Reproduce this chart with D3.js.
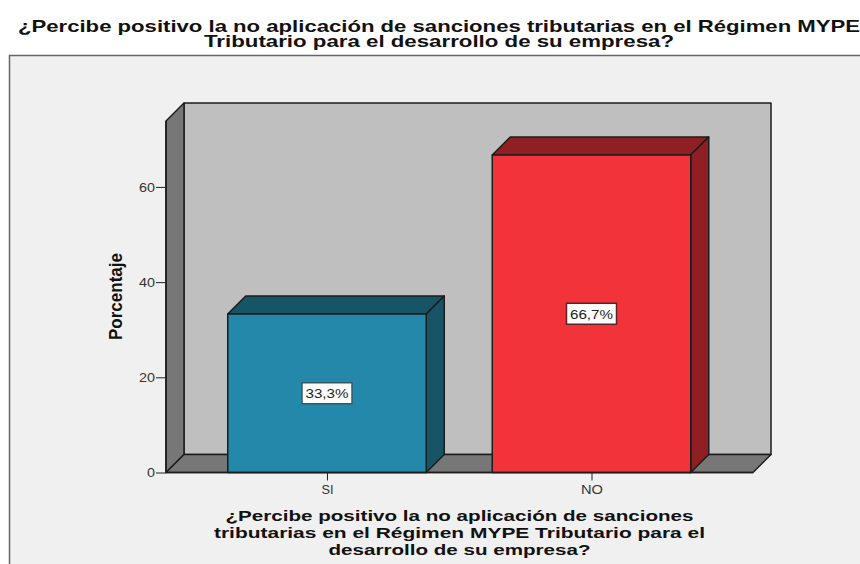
<!DOCTYPE html>
<html><head><meta charset="utf-8">
<script src="https://cdn.jsdelivr.net/npm/d3@7"></script>
<style>html,body{margin:0;padding:0;background:#fff;overflow:hidden}svg{display:block}text{font-family:"Liberation Sans",Arial,sans-serif}</style>
</head><body><svg id="c" width="860" height="564"></svg>
<script>
const categories = ["SI", "NO"];
const values = [33.3, 66.7];
const valueLabels = ["33,3%", "66,7%"];
const yTicks = [0, 20, 40, 60];
const yTitle = "Porcentaje";
const titleLines = ["¿Percibe positivo la no aplicación de sanciones tributarias en el Régimen MYPE", "Tributario para el desarrollo de su empresa?"];
const xTitleLines = ["¿Percibe positivo la no aplicación de sanciones", "tributarias en el Régimen MYPE Tributario para el", "desarrollo de su empresa?"];
const frontColors = ["#2488ab", "#f2333a"];
const sideColors = ["#175466", "#8f1f22"];
const labelStrokes = ["#2f5c6c", "#5a2325"];

const svg = d3.select("#c");
const d = 18;
const yMax = 73.85;
const y = d3.scaleLinear().domain([0, yMax]).range([472.5, 121]);
const x = d3.scalePoint().domain(categories).range([327, 591.5]);
const bw = 198.5, L = 166, R = 753;
const stroke = "#1c1c1c";
const poly = (pts, fill, sw = 1.5) => svg.append("path")
  .attr("d", d3.line()(pts) + "Z").attr("fill", fill).attr("stroke", stroke)
  .attr("stroke-width", sw).attr("stroke-linejoin", "round");

// page background and open frame (left and top edges only)
svg.append("rect").attr("x", 9).attr("y", 55).attr("width", 851).attr("height", 509).attr("fill", "#f0f0f0");
svg.append("path").attr("d", "M9.5 564V55.5H860").attr("fill", "none").attr("stroke", "#666").attr("stroke-width", 1.5);

// walls
const y0 = y(0), yT = y(yMax);
poly([[L + d, yT - d], [R + d, yT - d], [R + d, y0 - d], [L + d, y0 - d]], "#bfbfbf");
poly([[L, yT], [L + d, yT - d], [L + d, y0 - d], [L, y0]], "#777777");
poly([[L, y0], [L + d, y0 - d], [R + d, y0 - d], [R, y0]], "#777777");

// bars
categories.forEach((c, i) => {
  const x0 = x(c) - bw / 2, x1 = x(c) + bw / 2, t = y(values[i]);
  poly([[x0, t], [x0 + d, t - d], [x1 + d, t - d], [x1, t]], sideColors[i]);
  poly([[x1, t], [x1 + d, t - d], [x1 + d, y0 - d], [x1, y0]], sideColors[i]);
  poly([[x0, t], [x1, t], [x1, y0], [x0, y0]], frontColors[i]);
  const my = y(values[i] / 2);
  svg.append("rect").attr("x", x(c) - 25).attr("y", my - 10.5).attr("width", 50).attr("height", 21)
    .attr("fill", "#fff").attr("stroke", labelStrokes[i]).attr("stroke-width", 1.5);
  svg.append("text").attr("x", x(c)).attr("y", my + 5).attr("text-anchor", "middle")
    .attr("font-size", 13.5).attr("fill", "#222")
    .attr("textLength", 43).attr("lengthAdjust", "spacingAndGlyphs").text(valueLabels[i]);
});

// axes
const gy = svg.append("g").attr("transform", `translate(${L},0)`)
  .call(d3.axisLeft(y).tickValues(yTicks).tickSize(10).tickPadding(1).tickFormat(d3.format("d")));
gy.select(".domain").attr("stroke", stroke).attr("stroke-width", 1.5).attr("d", `M0 ${yT}V${y0}`);
gy.selectAll("line").attr("stroke", "#222");
gy.selectAll("text").attr("font-size", 13).attr("fill", "#333").style("font-family", '"Liberation Sans"')
  .attr("textLength", v => String(v).length * 8).attr("lengthAdjust", "spacingAndGlyphs");
const gx = svg.append("g").attr("transform", `translate(0,${y0})`)
  .call(d3.axisBottom(x).tickSize(8).tickPadding(4));
gx.select(".domain").attr("stroke", stroke).attr("stroke-width", 1.5).attr("d", `M${L} 0H${R}`);
gx.selectAll("line").attr("stroke", "#222");
const xTickW = [12, 22];
gx.selectAll("text").attr("font-size", 13).attr("fill", "#333").style("font-family", '"Liberation Sans"')
  .attr("textLength", (v, i) => xTickW[i]).attr("lengthAdjust", "spacingAndGlyphs");

// titles
const titleW = [842, 470], xTitleW = [468, 491, 262];
titleLines.forEach((t, i) => svg.append("text").attr("x", 439).attr("y", 31.5 + i * 15)
  .attr("text-anchor", "middle").attr("font-size", 16.5).attr("font-weight", "bold").attr("fill", "#111")
  .attr("textLength", titleW[i]).attr("lengthAdjust", "spacingAndGlyphs").text(t));
xTitleLines.forEach((t, i) => svg.append("text").attr("x", 459.5).attr("y", 520.5 + i * 17)
  .attr("text-anchor", "middle").attr("font-size", 15).attr("font-weight", "bold").attr("fill", "#111")
  .attr("textLength", xTitleW[i]).attr("lengthAdjust", "spacingAndGlyphs").text(t));
svg.append("text").attr("transform", "translate(121.5,296.5) rotate(-90)")
  .attr("text-anchor", "middle").attr("font-size", 18).attr("font-weight", "bold").attr("fill", "#111")
  .attr("textLength", 87).attr("lengthAdjust", "spacingAndGlyphs").text(yTitle);
</script></body></html>
